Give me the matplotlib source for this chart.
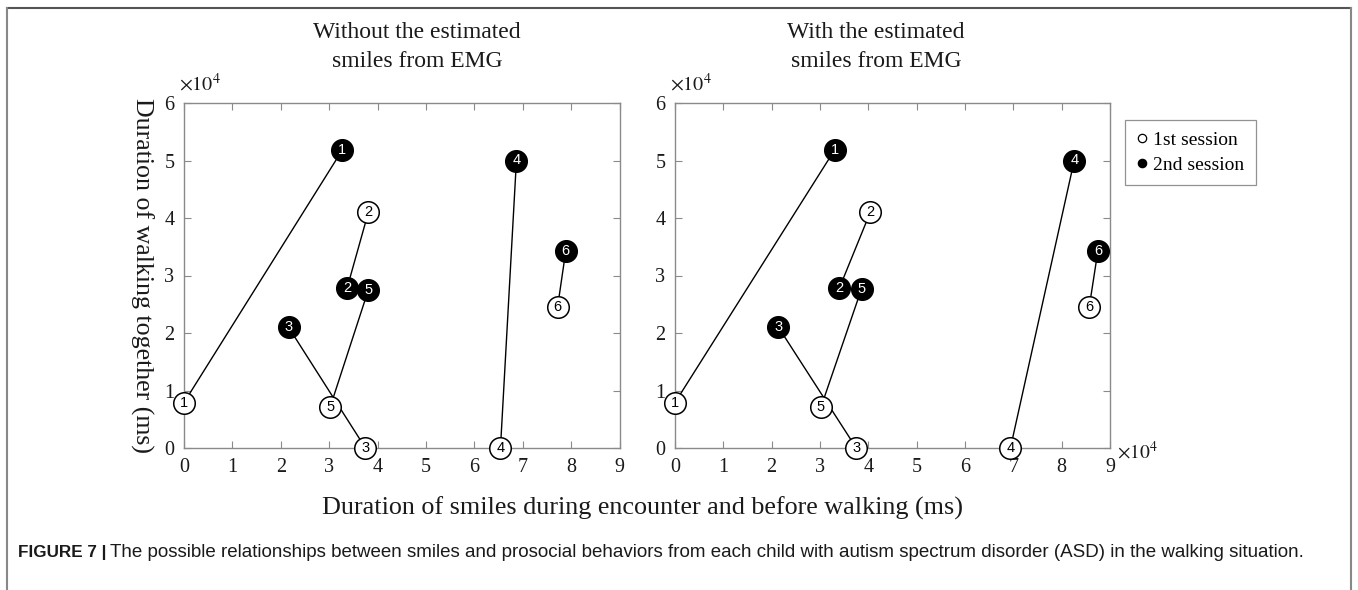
import matplotlib
matplotlib.use("Agg")
import matplotlib.pyplot as plt
from matplotlib.lines import Line2D

plt.rcParams['font.family'] = ['Liberation Serif', 'DejaVu Serif']
plt.rcParams['mathtext.fontset'] = 'stix'

children = ['1', '2', '3', '4', '5', '6']

# Without estimated smiles (x = smile duration, y = walking duration), units of 1e4 ms
wo_s1_x = [0.0, 3.81, 3.75, 6.54, 3.02, 7.72]
wo_s1_y = [0.79, 4.10, 0.0, 0.0, 0.71, 2.45]
wo_s2_x = [3.27, 3.37, 2.16, 6.87, 3.81, 7.89]
wo_s2_y = [5.18, 2.78, 2.10, 5.00, 2.75, 3.43]

# With estimated smiles from EMG
w_s1_x = [0.0, 4.04, 3.75, 6.94, 3.02, 8.57]
w_s1_y = [0.79, 4.10, 0.0, 0.0, 0.71, 2.45]
w_s2_x = [3.30, 3.40, 2.14, 8.26, 3.86, 8.75]
w_s2_y = [5.18, 2.78, 2.10, 5.00, 2.77, 3.43]

titles = ["Without the estimated\nsmiles from EMG", "With the estimated\nsmiles from EMG"]
xticks = [0, 1, 2, 3, 4, 5, 6, 7, 8, 9]
yticks = [0, 1, 2, 3, 4, 5, 6]
scale = 1e4

W, H = 1358, 590
fig = plt.figure(figsize=(W / 100, H / 100), dpi=100)

def fx(px):
    return px / W

def fy(py):
    return 1 - py / H

spine_col = '#8a8a8a'
txt_col = '#1a1a1a'
axes_px = [(184, 619.5), (675, 1110)]
title_cx = [417, 876]
ytop, ybot = 103, 448

panels = [(wo_s1_x, wo_s1_y, wo_s2_x, wo_s2_y), (w_s1_x, w_s1_y, w_s2_x, w_s2_y)]
axs = []
for i, ((x0, x1), data) in enumerate(zip(axes_px, panels)):
    ax = fig.add_axes([fx(x0), fy(ybot), (x1 - x0) / W, (ybot - ytop) / H])
    axs.append(ax)
    s1x, s1y, s2x, s2y = data
    ax.set_xlim(0, 9 * scale)
    ax.set_ylim(0, 6 * scale)
    for k in range(len(children)):
        ax.plot([s1x[k] * scale, s2x[k] * scale], [s1y[k] * scale, s2y[k] * scale],
                color='black', lw=1.0, zorder=2, clip_on=False)
    ax.plot([v * scale for v in s1x], [v * scale for v in s1y], 'o', ms=15.5,
            mfc='white', mec='black', mew=1.1, zorder=3, clip_on=False, ls='none')
    ax.plot([v * scale for v in s2x], [v * scale for v in s2y], 'o', ms=15.5,
            mfc='black', mec='black', mew=1.1, zorder=3, clip_on=False, ls='none')
    for k, c in enumerate(children):
        ax.text(s1x[k] * scale, s1y[k] * scale, c, ha='center', va='center',
                fontsize=10.5, color='black', family='Liberation Sans', zorder=4, clip_on=False)
        ax.text(s2x[k] * scale, s2y[k] * scale, c, ha='center', va='center',
                fontsize=10.5, color='white', family='Liberation Sans', zorder=4, clip_on=False)
    ax.set_xticks([t * scale for t in xticks])
    ax.set_xticklabels([str(t) for t in xticks])
    ax.set_yticks([t * scale for t in yticks])
    ax.set_yticklabels([str(t) for t in yticks])
    ax.tick_params(direction='in', top=True, right=True, length=5, width=0.8,
                   color=spine_col, labelsize=14.5, labelcolor=txt_col, pad=7)
    for sp in ax.spines.values():
        sp.set_color(spine_col)
        sp.set_linewidth(1.0)
    ax.text(-0.012, 1.02, r'$\times10^{4}$', transform=ax.transAxes, fontsize=14.5,
            ha='left', va='bottom', color=txt_col)
    fig.text(fx(title_cx[i]), fy(47), titles[i], ha='center', va='center', fontsize=17,
             linespacing=1.5, color=txt_col)

axs[1].text(1.017, -0.03, r'$\times10^{4}$', transform=axs[1].transAxes, fontsize=14,
            ha='left', va='baseline', color=txt_col)

fig.text(fx(142), fy(275), 'Duration of walking together (ms)', rotation=270,
         ha='center', va='center', fontsize=18.6, color=txt_col)
fig.text(fx(642), fy(508), 'Duration of smiles during encounter and before walking (ms)',
         ha='center', va='center', fontsize=18.8, color=txt_col)

handles = [Line2D([], [], marker='o', ls='none', ms=6, mfc='white', mec='black', mew=0.9),
           Line2D([], [], marker='o', ls='none', ms=6, mfc='black', mec='black', mew=0.9)]
leg = fig.legend(handles, ['1st session', '2nd session'], loc='upper left',
                 bbox_to_anchor=(fx(1125), fy(120)), frameon=True, fancybox=False,
                 fontsize=14, handlelength=0.5, handletextpad=0.35, borderpad=0.6,
                 labelspacing=0.35, borderaxespad=0)
leg.get_frame().set_edgecolor('#777777')
leg.get_frame().set_linewidth(0.9)

# Caption
fig.text(fx(18), fy(557), 'FIGURE 7 |', ha='left', va='baseline', fontsize=12.3,
         weight='bold', family='Liberation Sans', color=txt_col)
fig.text(fx(110), fy(557), 'The possible relationships between smiles and prosocial behaviors from each child with autism spectrum disorder (ASD) in the walking situation.',
         ha='left', va='baseline', fontsize=13.5, family='Liberation Sans', color=txt_col)

# Outer frame
fc = '#555555'
fig.add_artist(Line2D([fx(7), fx(1351)], [fy(8), fy(8)], color=fc, lw=1.5))
fig.add_artist(Line2D([fx(7), fx(7)], [fy(8), 0], color='#888888', lw=1.5))
fig.add_artist(Line2D([fx(1351), fx(1351)], [fy(8), 0], color='#888888', lw=1.5))

fig.savefig('out.png', dpi=100)
